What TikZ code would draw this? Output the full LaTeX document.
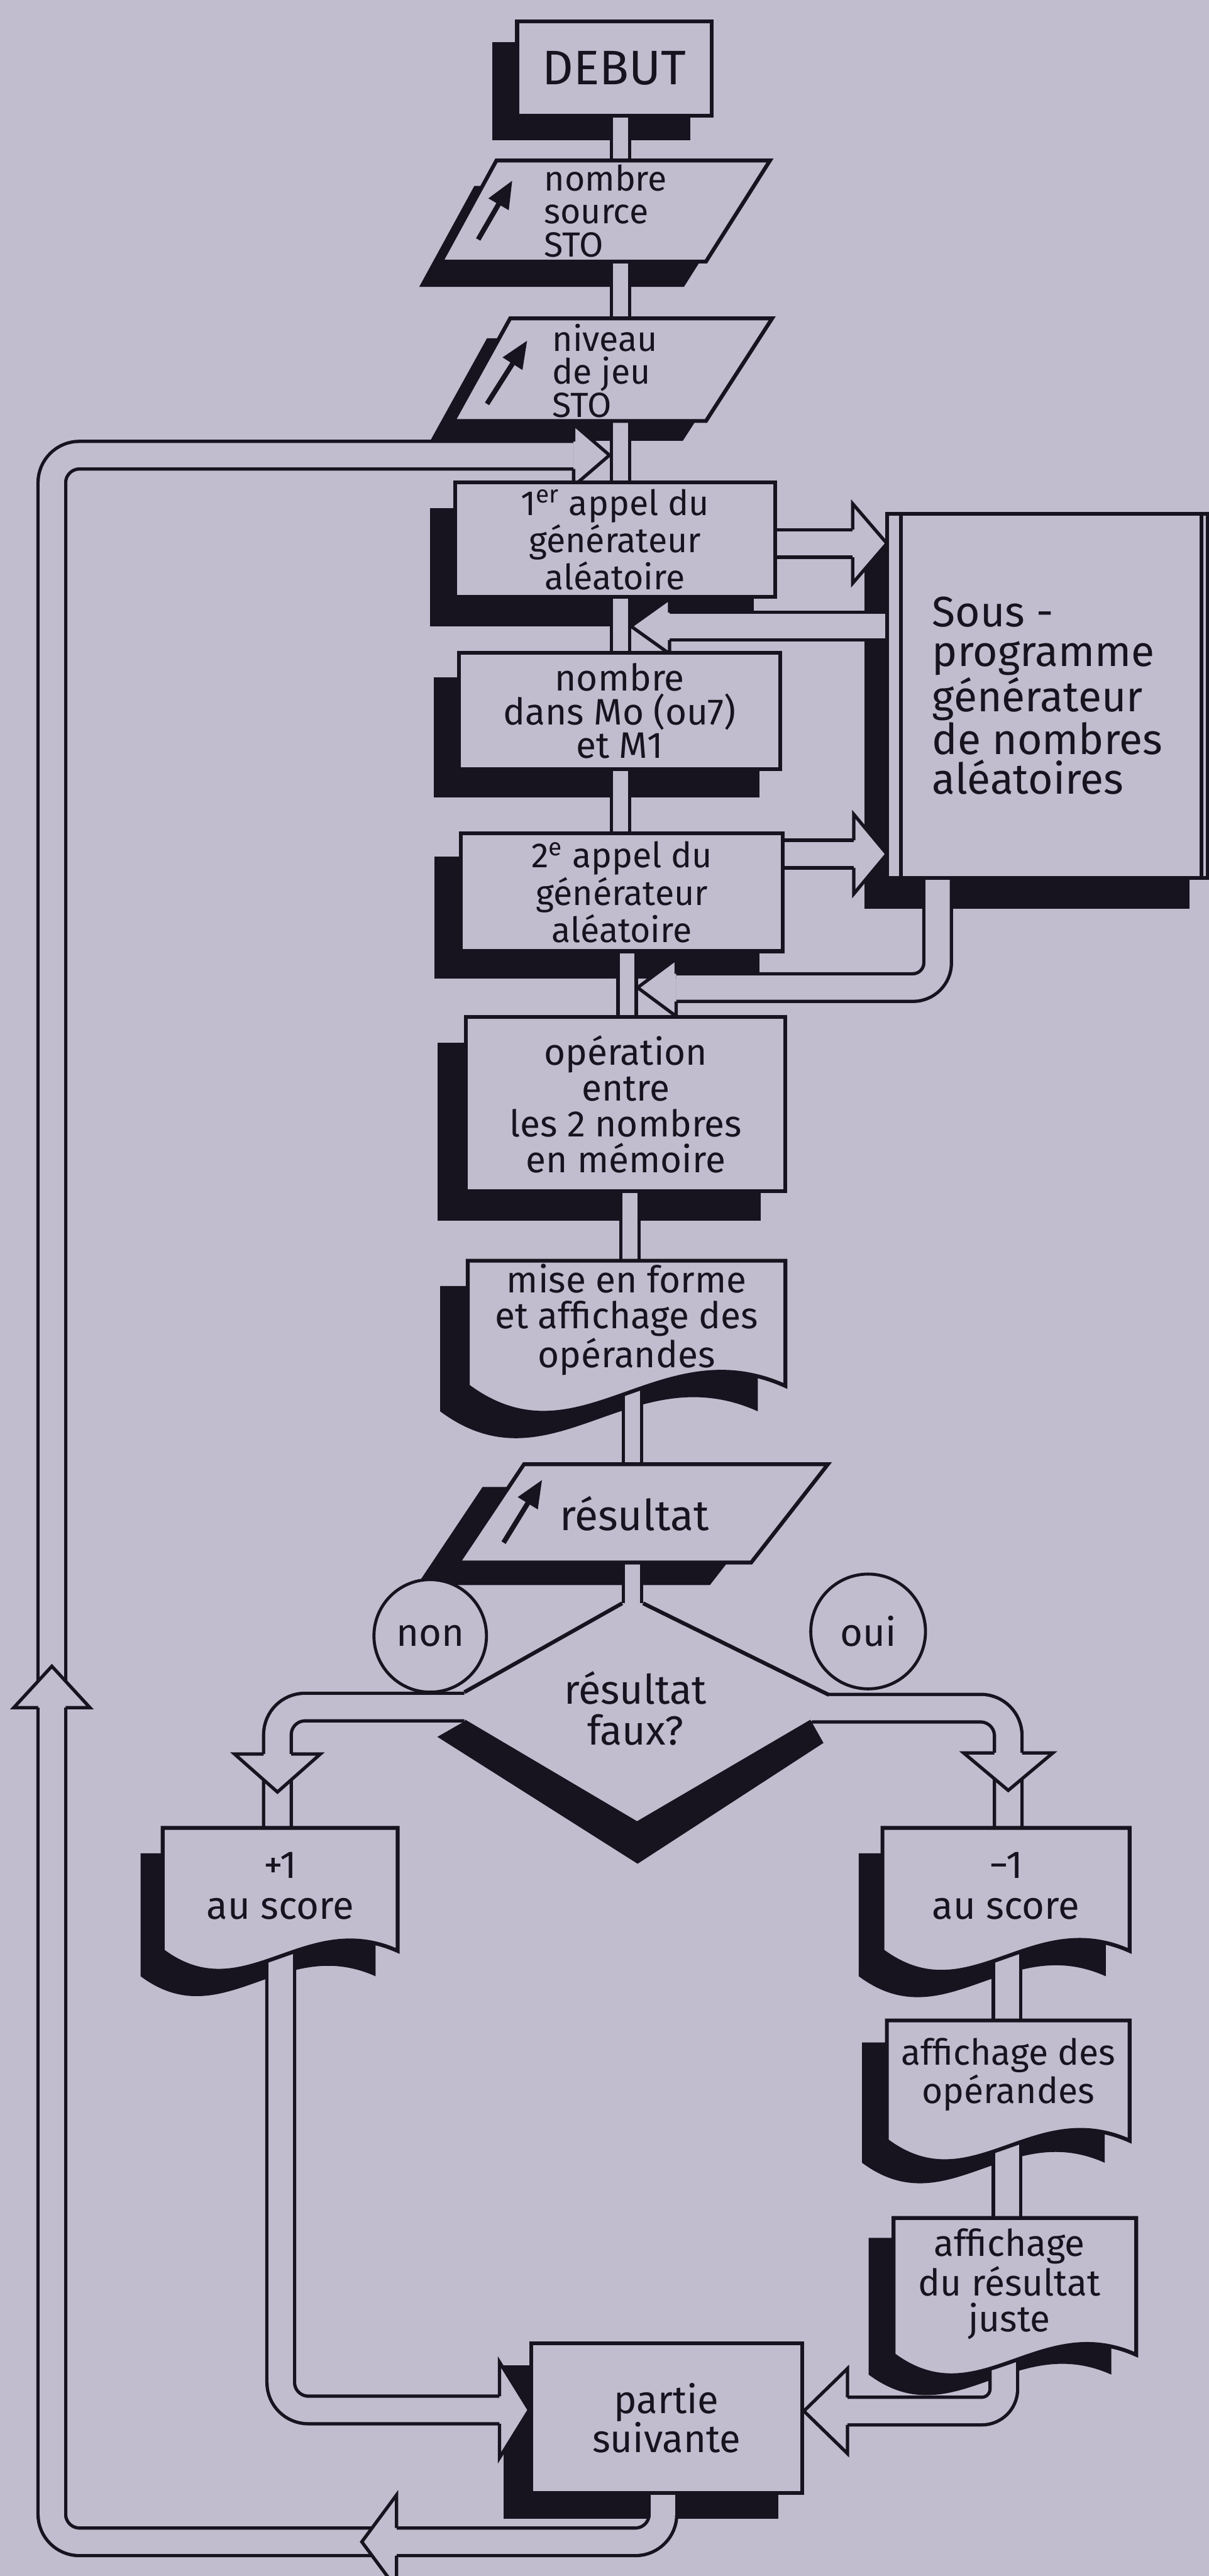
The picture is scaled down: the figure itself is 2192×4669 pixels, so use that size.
\documentclass[tikz,border=0pt]{standalone}
\usepackage{fontspec}
\setmainfont{Fira Sans}
\usetikzlibrary{arrows.meta}
\definecolor{bg}{HTML}{C1BDCF}
\definecolor{ink}{HTML}{17131F}
\pgfdeclarelayer{bgl}\pgfdeclarelayer{shad}\pgfdeclarelayer{pipes}
\pgfsetlayers{bgl,shad,pipes,main}
\tikzset{
 boxline/.style={draw=ink, line width=0.7mm, line join=miter},
 rbox/.style={boxline, fill=bg, shape=rectangle, inner sep=0pt, align=center, text=ink},
 tnode/.style={shape=rectangle, inner sep=0pt, align=center, text=ink},
 fs/.style 2 args={font=\fontsize{#1}{#2}\selectfont},
 bigpipe/.style={draw=ink, line width=0.6mm, double=bg, double distance=4.4mm, rounded corners=5mm},
 smallpipe/.style={draw=ink, line width=0.6mm, double=bg, double distance=2.7mm},
 headst/.style={fill=bg, draw=ink, line width=0.6mm, line join=miter},
 iconarrow/.style={draw=ink, line width=0.9mm, -{Triangle[length=5mm,width=4mm]}},
 circ/.style={circle, draw=ink, line width=0.55mm, fill=bg, inner sep=0pt, text=ink},
}
\newcommand\arrhead[4]{%
  \begin{scope}[shift={#1}, rotate=#2]
    \filldraw[headst] (-#3,2.5mm) -- (-#3,#4) -- (0,0) -- (-#3,-#4) -- (-#3,-2.5mm);
  \end{scope}}
\newcommand\docshape[5]{%
  \pgfmathsetmacro\dcw{#3-#2}%
  \path[#1] (#2,#4) -- (#3,#4) -- (#3,#5) .. controls ({#2+0.6*\dcw},{#5-0.18*\dcw}) and ({#2+0.35*\dcw},{#5+0.26*\dcw}) .. (#2,#5) -- cycle;}
\newcommand\rshadow[2]{\fill[ink] ([shift={#2}]#1.north west) rectangle ([shift={#2}]#1.south east);}
\begin{document}
\begin{tikzpicture}[x=0.1mm, y=-0.1mm]
\begin{pgfonlayer}{bgl}
\fill[bg] (0,0) rectangle (2192,4669);
\end{pgfonlayer}
\useasboundingbox (0,0) rectangle (2192,4669);

% ---------- shaped outlines (main layer, before text nodes)
\filldraw[boxline, fill=bg] (900,291) -- (1396,291) -- (1280,474) -- (800,474) -- cycle;
\filldraw[boxline, fill=bg] (925,577) -- (1400,577) -- (1280,763) -- (822,763) -- cycle;
\filldraw[boxline, fill=bg] (950,2654) -- (1501,2654) -- (1362,2832) -- (831,2832) -- cycle;
\docshape{boxline, fill=bg}{848}{1424}{2285}{2512}
\docshape{boxline, fill=bg}{295}{721}{3313}{3536}
\docshape{boxline, fill=bg}{1600}{2048}{3313}{3536}
\docshape{boxline, fill=bg}{1608}{2048}{3662}{3880}
\docshape{boxline, fill=bg}{1620}{2060}{4020}{4268}

% ---------- nodes
\node[rbox, fs={25pt}{25pt}, minimum width=35.3mm, minimum height=17.1mm] (debut) at (1114,124) {DEBUT};
\node[tnode, fs={18pt}{17pt}, align=left, minimum height=18.3mm] (p1) at (1098,382) {nombre\\source\\STO};
\node[tnode, fs={18pt}{17pt}, align=left, minimum height=18.6mm] (p2) at (1097,672) {niveau\\de jeu\\STO};
\node[rbox, fs={18pt}{17pt}, minimum width=58mm, minimum height=20.8mm] (box3) at (1115,978) {1\textsuperscript{er} appel du\\générateur\\aléatoire};
\node[rbox, fs={19pt}{17.5pt}, minimum width=58.3mm, minimum height=21.1mm] (box4) at (1123.5,1288.5) {nombre\\dans Mo (ou7)\\et M1};
\node[rbox, fs={18pt}{17pt}, minimum width=58.3mm, minimum height=21.4mm] (box5) at (1127.5,1617) {2\textsuperscript{e} appel du\\générateur\\aléatoire};
\node[rbox, fs={19pt}{18.5pt}, minimum width=57.9mm, minimum height=31.6mm] (box6) at (1134.5,2001) {opération\\entre\\les 2 nombres\\en mémoire};
\node[tnode, fs={19pt}{18.5pt}, minimum width=57.6mm, minimum height=22.7mm] (doc7) at (1136,2392) {mise en forme\\et affichage des\\opérandes};
\node[tnode, fs={22pt}{22pt}, minimum height=17.8mm] (p3) at (1150,2743) {résultat};
\node[tnode, fs={21pt}{21pt}] (dia) at (1152,3096) {résultat\\faux?};
\node[circ, fs={20pt}{20pt}, minimum size=20.4mm] (non) at (780,2965) {non};
\node[circ, fs={20pt}{20pt}, minimum size=20.8mm] (oui) at (1574,2957) {oui};
\node[tnode, fs={20pt}{21pt}, minimum width=42.6mm, minimum height=22.3mm] (plus1) at (508,3418) {+1\\au score};
\node[tnode, fs={20pt}{21pt}, minimum width=44.8mm, minimum height=22.3mm] (minus1) at (1824,3418) {−1\\au score};
\node[tnode, fs={18.5pt}{20pt}, minimum width=44mm, minimum height=21.8mm] (affop) at (1828,3760) {affichage des\\opérandes};
\node[tnode, fs={19pt}{18.5pt}, minimum width=44mm, minimum height=24.8mm] (affres) at (1830,4140) {affichage\\du résultat\\juste};
\node[rbox, fs={20pt}{20pt}, minimum width=49.1mm, minimum height=27.1mm] (partie) at (1208.5,4382.5) {partie\\suivante};
\node[rbox, fs={22pt}{20.5pt}, align=left, minimum width=58.2mm, minimum height=66mm] (sub) at (1899,1261) {Sous -\\programme\\générateur\\de nombres\\aléatoires};

% sub-programme inner vertical lines
\draw[boxline] ([xshift=2.9mm]sub.north west) -- ([xshift=2.9mm]sub.south west);
\draw[boxline] ([xshift=-1.5mm]sub.north east) -- ([xshift=-1.5mm]sub.south east);

% input arrows inside parallelograms
\draw[iconarrow] (867,434) -- (929,327);
\draw[iconarrow] (883,732) -- (956,617);
\draw[iconarrow] (913,2796) -- (983,2682);

% diamond (open) edges
\coordinate (dtop) at (1147,2906);
\draw[boxline] (1128,2906) -- (842,3067);
\draw[boxline] (1166,2906) -- (1503,3072);
\draw[boxline] (842,3120) -- (1155,3305) -- (1471,3120);

% ---------- shadows
\begin{pgfonlayer}{shad}
\rshadow{debut}{(-42,41)}
\rshadow{box3}{(-42,50)}
\rshadow{box4}{(-42,48)}
\rshadow{box5}{(-45,46)}
\rshadow{box6}{(-48,50)}
\rshadow{partie}{(-46,44)}
\rshadow{sub}{(-37,53)}
\fill[ink, shift={(-40,46)}] (900,291) -- (1396,291) -- (1280,474) -- (800,474) -- cycle;
\fill[ink, shift={(-42,36)}] (925,577) -- (1400,577) -- (1280,763) -- (822,763) -- cycle;
\fill[ink, shift={(-75,41)}] (950,2654) -- (1501,2654) -- (1362,2832) -- (831,2832) -- cycle;
\docshape{fill=ink, shift={(-50,46)}}{848}{1424}{2285}{2512}
\docshape{fill=ink, shift={(-40,46)}}{295}{721}{3313}{3536}
\docshape{fill=ink, shift={(-43,46)}}{1600}{2048}{3313}{3536}
\docshape{fill=ink, shift={(-45,40)}}{1608}{2048}{3662}{3880}
\docshape{fill=ink, shift={(-45,36)}}{1620}{2060}{4020}{4268}
\fill[ink] (842,3120) -- (1155,3305) -- (1471,3120) -- (1493,3159) -- (1156,3378) -- (793,3148) -- cycle;
\end{pgfonlayer}

% ---------- connectors
\begin{pgfonlayer}{pipes}
\coordinate (xa) at (1125,0);
\coordinate (xb) at (1137,0);
\coordinate (xc) at (1142,0);
\coordinate (xd) at (1147,0);
\draw[smallpipe] (debut.center -| xa) -- (p1.center -| xa);
\draw[smallpipe] (p1.center -| xa) -- (p2.center -| xa);
\draw[smallpipe] (p2.center -| xa) -- (box3.center -| xa);
\draw[smallpipe] (box3.center -| xa) -- (box4.center -| xa);
\draw[smallpipe] (box4.center -| xa) -- (box5.center -| xa);
\draw[smallpipe] (box5.center -| xb) -- (box6.center -| xb);
\draw[smallpipe] (box6.center -| xc) -- (doc7.center -| xc);
\draw[smallpipe] (doc7.center -| xd) -- (p3.center -| xd);
\draw[smallpipe] (p3.center -| xd) -- (dtop);

% big return loop
\coordinate (loopA) at (1202,4607);
\coordinate (loopB) at (94,4607);
\coordinate (loopC) at (94,825);
\coordinate (loopD) at (1040,825);
\draw[bigpipe] (partie.center -| loopA) -- (loopA) -- (loopB) -- (loopC) -- (loopD);
\arrhead{(1105,825)}{0}{6.5mm}{5.6mm}
\arrhead{(656,4607)}{180}{6.3mm}{8.5mm}
\arrhead{(94,3020)}{90}{7.5mm}{6.9mm}

% calls to the sub-programme
\coordinate (c1) at (1608,985);
\draw[bigpipe] (box3.center |- c1) -- ([xshift=-6.2mm]c1);
\arrhead{(c1)}{0}{6.2mm}{7.2mm}
\coordinate (e1) at (1608,1548);
\draw[bigpipe] (box5.center |- e1) -- ([xshift=-6mm]e1);
\arrhead{(e1)}{0}{6mm}{7.2mm}
% returns from the sub-programme
\coordinate (r1tip) at (1144,1135);
\draw[bigpipe] (sub.center |- r1tip) -- (1214,1135);
\arrhead{(r1tip)}{180}{7mm}{5mm}
\coordinate (f1) at (1700,1790);
\draw[bigpipe, rounded corners=4.5mm] (sub.center -| f1) -- (f1) -- (1226,1790);
\arrhead{(1156,1790)}{180}{7mm}{5.2mm}

% decision branches
\draw[bigpipe] (1000,3094) -- (503,3094) -- (plus1.center -| 503,0);
\arrhead{(503,3248)}{-90}{6.9mm}{7.8mm}
\draw[bigpipe] (1300,3096) -- (1828,3096) -- (minus1.center -| 1828,0);
\arrhead{(1828,3245)}{-90}{6.8mm}{8.1mm}
\fill[bg] (1128,2906) -- (1166,2906) -- (1503,3072) -- (1471,3120) -- (1155,3305) -- (842,3120) -- (842,3067) -- cycle;

% right column
\coordinate (xr) at (1826,0);
\draw[bigpipe] (minus1.center -| xr) -- (affop.center -| xr);
\draw[bigpipe] (affop.center -| xr) -- (affres.center -| xr);
\coordinate (k1) at (1820,4370);
\draw[bigpipe, rounded corners=4mm] (affres.center -| k1) -- (k1) -- (1533,4370);
\arrhead{(partie.east |- k1)}{180}{7.9mm}{7.7mm}
% left branch to next game
\coordinate (l1) at (509,4368);
\draw[bigpipe] (plus1.center -| l1) -- (l1) -- (909,4368);
\arrhead{(partie.west |- l1)}{0}{5.4mm}{8.7mm}
\end{pgfonlayer}
\end{tikzpicture}
\end{document}
